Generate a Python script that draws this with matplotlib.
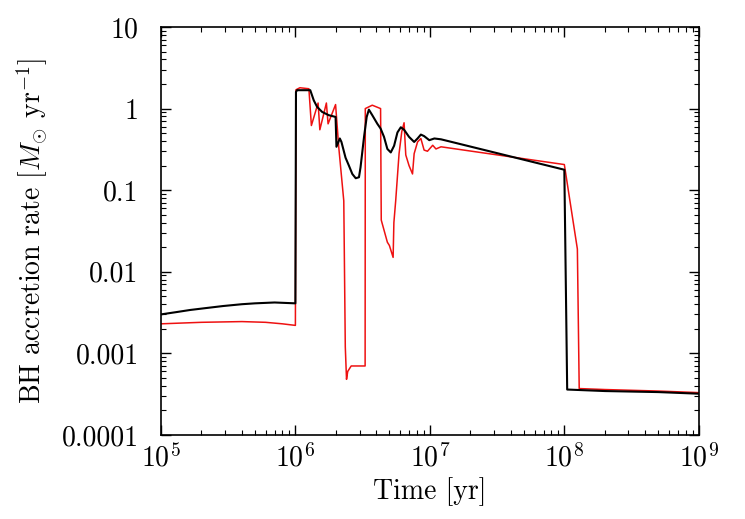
import numpy as np
import matplotlib
matplotlib.use("Agg")
import matplotlib.pyplot as plt

plt.rcParams['font.family'] = 'serif'
plt.rcParams['font.serif'] = ['cmr10']
plt.rcParams['mathtext.fontset'] = 'cm'
plt.rcParams['axes.unicode_minus'] = False
plt.rcParams['axes.formatter.use_mathtext'] = True

# black run
t_black = [1e5, 1.3e5, 1.65e5, 2.2e5, 2.9e5, 4e5, 5e5, 7e5, 1.0e6,
           1.01e6, 1.03e6, 1.29e6, 1.37e6, 1.45e6, 1.58e6, 1.77e6, 1.99e6,
           2.02e6, 2.14e6, 2.2e6, 2.36e6, 2.5e6, 2.65e6, 2.81e6, 2.97e6,
           3.05e6, 3.24e6, 3.39e6, 3.52e6, 3.73e6, 4.07e6, 4.3e6, 4.56e6,
           4.83e6, 5.12e6, 5.42e6, 5.74e6, 6.08e6, 6.43e6, 7.0e6, 7.64e6,
           8.1e6, 8.57e6, 9.06e6, 9.9e6, 1.08e7, 1.21e7, 1.0e8,
           1.05e8, 2e8, 5e8, 1e9]
rate_black = [0.0030, 0.0032, 0.0034, 0.0036, 0.0038, 0.0040, 0.0041, 0.0042, 0.0041,
              1.6, 1.68, 1.68, 1.26, 1.05, 0.91, 0.83, 0.79,
              0.34, 0.43, 0.39, 0.25, 0.20, 0.158, 0.14, 0.144,
              0.19, 0.45, 0.79, 0.97, 0.83, 0.65, 0.57, 0.45,
              0.32, 0.29, 0.35, 0.51, 0.59, 0.55, 0.45, 0.39,
              0.43, 0.48, 0.46, 0.41, 0.43, 0.42, 0.178,
              0.00036, 0.000345, 0.000335, 0.00032]

# red run
t_red = [1e5, 2e5, 4e5, 6e5, 8e5, 1.0e6,
         1.01e6, 1.08e6, 1.26e6, 1.315e6, 1.475e6, 1.52e6, 1.70e6, 1.75e6,
         1.99e6, 2.1e6, 2.29e6, 2.35e6, 2.40e6, 2.45e6, 2.6e6, 3.3e6,
         3.31e6, 3.73e6, 4.3e6, 4.35e6, 4.83e6, 5.0e6, 5.33e6,
         5.4e6, 5.57e6, 5.9e6, 6.18e6, 6.43e6, 6.62e6, 7.0e6, 7.43e6,
         7.64e6, 8.1e6, 8.57e6, 9.06e6, 9.6e6, 1.05e7, 1.11e7, 1.21e7,
         1.0e8, 1.25e8, 1.29e8, 2e8, 5e8, 1e9]
rate_red = [0.0023, 0.0024, 0.00245, 0.0024, 0.0023, 0.0022,
            1.7, 1.8, 1.75, 0.62, 1.17, 0.55, 1.17, 0.65,
            1.12, 0.34, 0.074, 0.0012, 0.00048, 0.0006, 0.0007, 0.0007,
            1.0, 1.1, 1.0, 0.043, 0.023, 0.021, 0.015,
            0.04, 0.074, 0.28, 0.52, 0.67, 0.27, 0.20, 0.158,
            0.28, 0.39, 0.43, 0.31, 0.30, 0.355, 0.32, 0.34,
            0.206, 0.019, 0.00037, 0.00036, 0.000345, 0.00033]

ytick_vals = [1e-4, 1e-3, 1e-2, 1e-1, 1, 10]
ytick_labels = ['0.0001', '0.001', '0.01', '0.1', '1', '10']

fig = plt.figure(figsize=(7.45, 5.19), dpi=100)
ax = fig.add_axes([0.216, 0.162, 0.722, 0.786])

ax.plot(t_red, rate_red, color='#ee1111', lw=1.1)
ax.plot(t_black, rate_black, color='black', lw=1.5)

ax.set_xscale('log')
ax.set_yscale('log')
ax.set_xlim(1e5, 1e9)
ax.set_ylim(1e-4, 10)
ax.set_yticks(ytick_vals)
ax.set_yticklabels(ytick_labels)

ax.tick_params(which='both', direction='in', top=True, right=True, labelsize=20)
ax.tick_params(which='major', length=7, width=1)
ax.tick_params(which='minor', length=3.5, width=0.8)
ax.tick_params(axis='x', pad=6)
ax.tick_params(axis='y', pad=16)
for s in ax.spines.values():
    s.set_linewidth(1.2)

ax.set_xlabel('Time [yr]', fontsize=20, labelpad=4)
ax.set_ylabel(r'BH accretion rate [$M_{\odot}$ yr$^{-1}$]', fontsize=20, labelpad=8)

fig.savefig('out.png', dpi=100)
